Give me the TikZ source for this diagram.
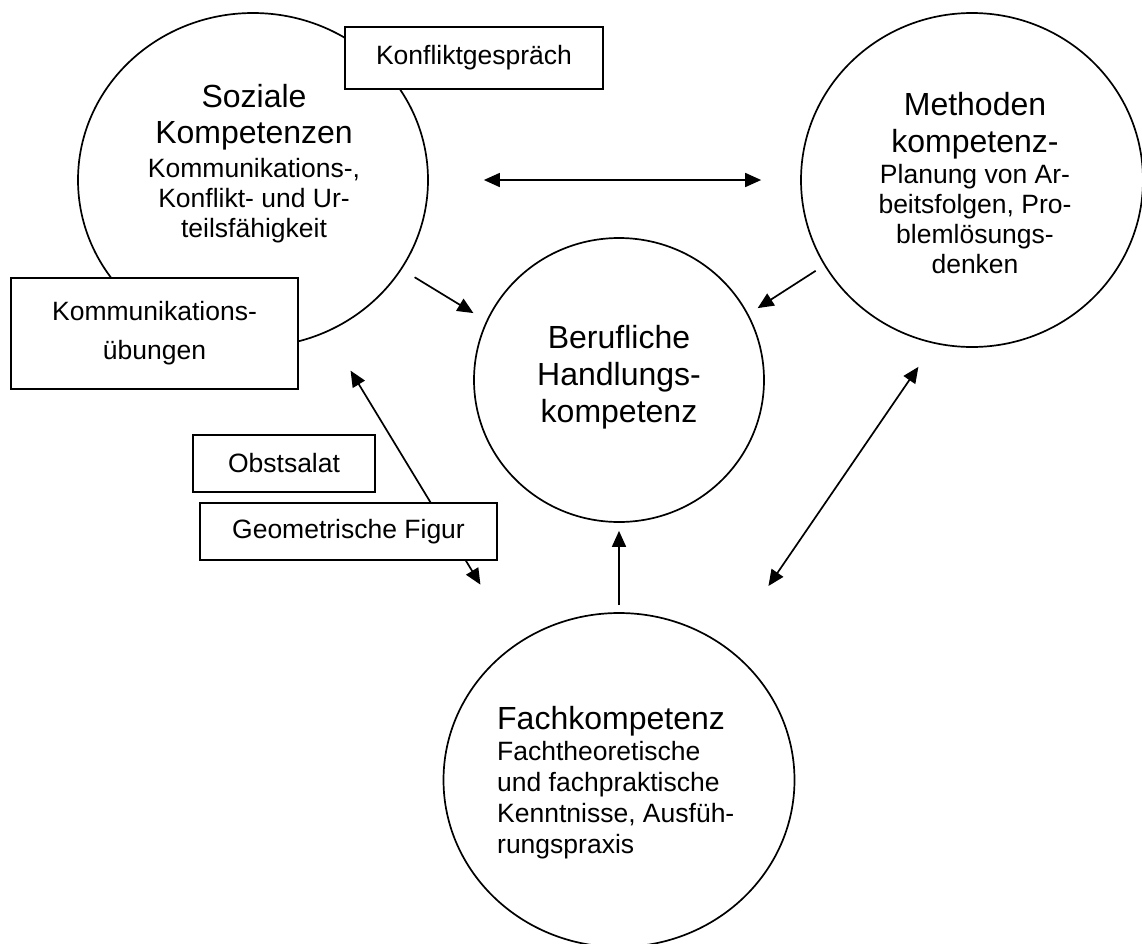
\documentclass[tikz,border=0pt]{standalone}
\usepackage{fontspec}
\setmainfont{Liberation Sans}
\usetikzlibrary{shapes.geometric}
\usetikzlibrary{arrows.meta}

\newcommand{\grossschrift}{\fontsize{32}{37}\selectfont}
\newcommand{\kleinschrift}{\fontsize{26.5}{30}\selectfont}

\begin{document}
\begin{tikzpicture}[x=1pt, y=-1pt, line width=1.7pt, >={Triangle[length=16pt,width=14pt]}]

\tikzstyle{kreis}=[draw=black, ellipse, inner sep=0pt]
\tikzstyle{box}=[draw=black, align=center, fill=white, inner sep=0pt, font=\kleinschrift]
\tikzstyle{inhalt}=[align=center, font=\kleinschrift, anchor=base]

\path[use as bounding box, fill=white] (0,0) rectangle (1142,943);

\node[kreis, minimum width=350pt, minimum height=334pt] (soziale) at (253,180) {};
\node[kreis, minimum width=342pt, minimum height=334pt] (methoden) at (972,180) {};
\node[kreis, minimum width=290pt, minimum height=284pt] (beruf) at (619,380) {};
\node[kreis, minimum width=351pt, minimum height=334pt] (fach) at (619,780) {};

\draw[->, shorten <=15pt, shorten >=15pt] (soziale.-31.5) -- (beruf.156.7);
\draw[->, shorten <=10pt, shorten >=11pt] (methoden.210.4) -- (beruf.27.6);
\draw[<->, shorten <=55pt, shorten >=39pt] (soziale.east) -- (methoden.west);
\draw[->, shorten <=7pt, shorten >=8pt] (fach.north) -- (beruf.south);
\draw[<->, shorten <=45pt, shorten >=69pt] (soziale.-64.2) -- (fach.127.3);
\draw[<->, shorten <=28pt, shorten >=74pt] (methoden.257.5) -- (fach.51.2);

\node[box, minimum width=258pt, minimum height=62pt] (konflikt) at (474,58) {Konfliktgespräch};
\node[box, minimum width=287pt, minimum height=111pt] (uebungen) at (154.5,333.5) {Kommunikations-\\[9pt]übungen};
\node[box, minimum width=182pt, minimum height=57pt] (obstsalat) at (284,463.5) {Obstsalat};
\node[box, minimum width=297pt, minimum height=57pt] (geometrie) at (348.5,531.5) {Geometrische Figur};

\node[inhalt] (soziale text) at (254,237) {{\grossschrift Soziale}\\[6pt]{\grossschrift Kompetenzen}\\[4pt]Kommunikations-,\\Konflikt- und Ur-\\teilsfähigkeit};
\node[inhalt] (methoden text) at (975,273) {{\grossschrift Methoden}\\[7pt]{\grossschrift kompetenz-}\\[1pt]Planung von Ar-\\beitsfolgen, Pro-\\blemlösungs-\\denken};
\node[inhalt, font=\grossschrift] (beruf text) at (619,422) {Berufliche\\Handlungs-\\kompetenz};
\node[inhalt, align=left, anchor=base west, font=\fontsize{26.5}{31}\selectfont] (fach text) at (493,853) {{\grossschrift Fachkompetenz}\\Fachtheoretische\\und fachpraktische\\Kenntnisse, Ausfüh-\\rungspraxis};

\end{tikzpicture}
\end{document}
